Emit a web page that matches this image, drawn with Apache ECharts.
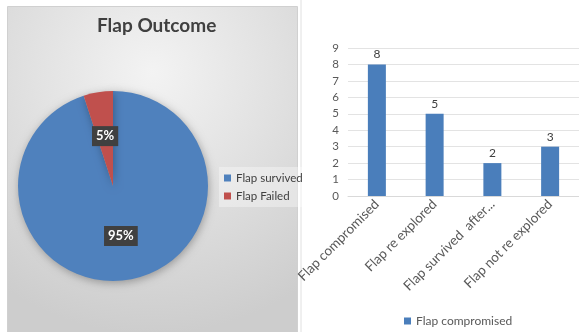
<!DOCTYPE html>
<html><head><meta charset="utf-8">
<script src="https://cdn.jsdelivr.net/npm/echarts@6/dist/echarts.min.js"></script>
<style>html,body{margin:0;padding:0;background:#fff}#c{width:579px;height:332px}</style>
</head><body><div id="c"></div>
<script>
const pieNames = ['Flap survived', 'Flap Failed'];
const pieValues = [95, 5];
const barCategories = ['Flap compromised', 'Flap re explored', 'Flap survived  after...', 'Flap not re explored'];
const barValues = [8, 5, 2, 3];
const barSeriesName = 'Flap compromised';
const yTicks = [0, 9, 1];

const font = 'Lato, "Noto Sans", sans-serif';
const chart = echarts.init(document.getElementById('c'));
chart.setOption({
  animation: false,
  textStyle: { fontFamily: font },
  graphic: [{
    type: 'rect', left: 7, top: 6, z: -10,
    shape: { width: 290, height: 330 },
    style: {
      fill: { type: 'radial', x: 0.5, y: 0.2, r: 0.9,
        colorStops: [{ offset: 0, color: '#f3f3f3' }, { offset: 1, color: '#cdcdcd' }] },
      stroke: '#d0d0d0', lineWidth: 1
    }
  }, {
    type: 'line', z: -10, shape: { x1: 301, y1: 0, x2: 301, y2: 332 },
    style: { stroke: '#e0e0e0', lineWidth: 1 }
  }],
  title: {
    text: 'Flap Outcome', left: 92, top: 11,
    textStyle: { fontSize: 19, fontWeight: 'bold', color: '#404040', fontFamily: font }
  },
  legend: [{
    data: pieNames, orient: 'vertical', left: 219, top: 167,
    itemWidth: 7, itemHeight: 7, itemGap: 6, icon: 'rect',
    backgroundColor: 'rgba(255,255,255,0.35)', padding: [5, 4, 5, 5],
    textStyle: { fontSize: 11.5, color: '#404040', fontFamily: font }
  }, {
    data: [barSeriesName], left: 399, top: 310, icon: 'rect',
    itemWidth: 7, itemHeight: 7,
    textStyle: { fontSize: 12, color: '#595959', fontFamily: font }
  }],
  grid: { left: 348, top: 48, width: 235, height: 148 },
  xAxis: {
    type: 'category', data: barCategories,
    axisLine: { lineStyle: { color: '#d9d9d9' } },
    axisTick: { show: false },
    axisLabel: { rotate: 45, interval: 0, fontSize: 13.5, color: '#595959', margin: 6, fontFamily: font }
  },
  yAxis: {
    type: 'value', min: yTicks[0], max: yTicks[1], interval: yTicks[2],
    axisLine: { show: false }, axisTick: { show: false },
    splitLine: { lineStyle: { color: '#e3e3e3' } },
    axisLabel: { fontSize: 11.5, color: '#595959', margin: 9, fontFamily: font }
  },
  series: [{
    type: 'pie', center: [113, 186], radius: 95,
    startAngle: 90, clockwise: true,
    data: pieNames.map((n, i) => ({ name: n, value: pieValues[i] })),
    color: ['#4f81bd', '#c0504d'],
    itemStyle: { shadowBlur: 8, shadowColor: 'rgba(0,0,0,0.3)', shadowOffsetX: 1, shadowOffsetY: 2 },
    label: {
      position: 'inside', formatter: '{c}%', color: '#fff', fontWeight: 'bold',
      fontSize: 13, backgroundColor: '#404040', padding: [4, 4, 3, 4], fontFamily: font
    },
    labelLine: { show: false }
  }, {
    type: 'bar', name: barSeriesName, data: barValues, barWidth: 18,
    itemStyle: { color: '#4a7ebb' },
    label: { show: true, position: 'top', fontSize: 12, color: '#404040', distance: 4, fontFamily: font }
  }]
});
</script></body></html>
